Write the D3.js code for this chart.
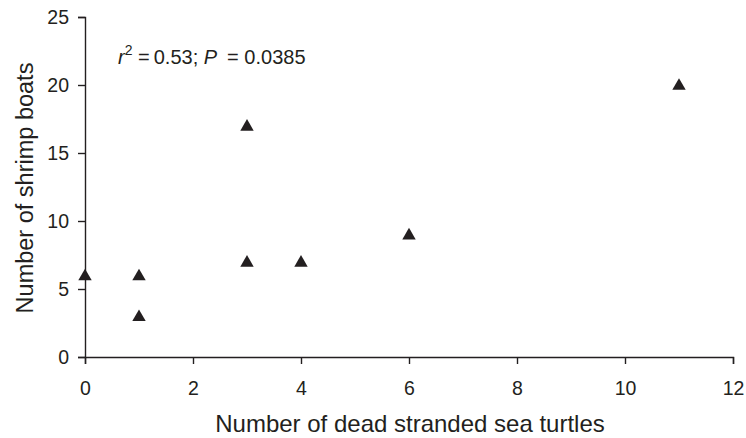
<!DOCTYPE html>
<html>
<head>
  <meta charset="utf-8">
  <title>shrimp boats vs turtles</title>
  <style>
    body { margin: 0; background: #fff; }
    text { font-family: Arial, "Liberation Sans", sans-serif; fill: #231f20; }
  </style>
</head>
<body>
  <svg width="746" height="438" class="chart"></svg>

  <script src="https://d3js.org/d3.v7.min.js"></script>
  <script type="text/javascript">

  // values
  var turtles = [0, 1, 1, 3, 3, 4, 6, 11];
  var boats   = [6, 6, 3, 17, 7, 7, 9, 20];
  var xTicks = [0, 2, 4, 6, 8, 10, 12];
  var yTicks = [0, 5, 10, 15, 20, 25];

  var svg = d3.select(".chart");
  var ink = "#231f20";

  var x = d3.scaleLinear().domain([0, 12]).range([85, 733]);
  var y = d3.scaleLinear().domain([0, 25]).range([357, 17]);

  var xAxis = svg.append("g")
    .attr("transform", "translate(0," + y(0) + ")")
    .call(d3.axisBottom(x).tickValues(xTicks).tickSizeOuter(0).tickSize(7).tickPadding(17));
  var yAxis = svg.append("g")
    .attr("transform", "translate(" + x(0) + ",0)")
    .call(d3.axisLeft(y).tickValues(yTicks).tickSizeOuter(0).tickSize(7).tickPadding(9));

  [xAxis, yAxis].forEach(function(g) {
    g.selectAll("path, line").attr("stroke", ink).attr("stroke-width", 1.4);
    g.selectAll("text").style("font-size", "19.5px").attr("fill", ink);
  });

  // triangles
  var tri = d3.symbol().type(d3.symbolTriangle).size(78);
  svg.selectAll(".pt")
    .data(turtles)
    .enter().append("path")
    .attr("class", "pt")
    .attr("d", tri)
    .attr("fill", ink)
    .attr("transform", function(d, i) {
      return "translate(" + x(d) + "," + (y(boats[i]) + 1) + ")";
    });

  // annotation
  var ann = svg.append("text")
    .attr("x", 118).attr("y", 64)
    .style("font-size", "20px");
  ann.append("tspan").style("font-style", "italic").text("r");
  ann.append("tspan").attr("dy", -9).style("font-size", "14px").text("2");
  ann.append("tspan").attr("dy", 9).text(" =\u20090.53; ");
  ann.append("tspan").style("font-style", "italic").text("P");
  ann.append("tspan").text("\u2002= 0.0385");

  // axis titles
  svg.append("text")
    .attr("x", 410)
    .attr("y", 432)
    .attr("text-anchor", "middle")
    .style("font-size", "24px")
    .text("Number of dead stranded sea turtles");

  svg.append("text")
    .attr("transform", "translate(33,188) rotate(-90)")
    .attr("text-anchor", "middle")
    .style("font-size", "23.5px")
    .text("Number of shrimp boats");

  </script>
</body>
</html>
